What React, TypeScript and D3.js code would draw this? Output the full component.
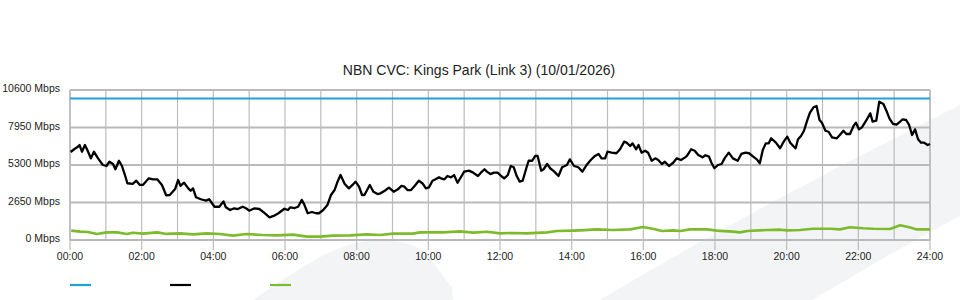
import React from "react";
import * as d3 from "d3";

const chartTitle = "NBN CVC: Kings Park (Link 3) (10/01/2026)";
const yTickValues = [0, 2650, 5300, 7950, 10600];
const xTickHours = [0, 2, 4, 6, 8, 10, 12, 14, 16, 18, 20, 22, 24];
const gridHours = d3.range(0, 25);
const capacitySeries: [number, number][] = [[0, 10000], [1440, 10000]];

// [minute of day, Mbps]
const trafficSeries: [number, number][] = [
  [1, 6220], [8, 6450], [12, 6550], [16, 6710], [20, 6240], [25, 6710], [29, 6360], [35, 5770], [40, 6240], [47, 5770],
  [55, 5300], [61, 5230], [66, 5530], [72, 5370], [76, 5000], [82, 5600], [87, 5230], [92, 4590], [96, 4010], [105, 3960],
  [111, 4190], [117, 3890], [122, 3890], [132, 4360], [139, 4290], [146, 4290], [154, 3890], [161, 3160], [167, 3180], [176, 3600],
  [181, 4240], [185, 3820], [191, 4050], [198, 3650], [202, 3480], [206, 3650], [211, 3020], [219, 2880], [228, 2780], [233, 2880],
  [242, 2350], [250, 2350], [257, 2730], [261, 2310], [268, 2120], [275, 2240], [281, 2190], [289, 2350], [295, 2240], [300, 2070],
  [309, 2240], [317, 2190], [325, 1930], [334, 1600], [341, 1700], [349, 1890], [359, 2210], [365, 2120], [369, 2310], [376, 2260],
  [382, 2350], [388, 2830], [392, 2540], [398, 1890], [405, 1980], [412, 1890], [417, 1890], [424, 2120], [431, 2470], [437, 3180],
  [443, 3530], [448, 4120], [453, 4590], [460, 3960], [467, 3650], [473, 3890], [478, 4120], [484, 3770], [489, 3180], [493, 3180],
  [502, 3890], [508, 3410], [515, 3250], [520, 3300], [527, 3480], [534, 3700], [542, 3410], [549, 3580], [555, 3820], [560, 3770],
  [565, 3530], [571, 3530], [577, 3820], [584, 4190], [590, 4010], [596, 3650], [601, 3720], [607, 4190], [612, 4290], [618, 4430],
  [621, 4360], [627, 4290], [632, 4520], [638, 4430], [643, 4590], [649, 4050], [655, 4470], [660, 4830], [668, 4900], [675, 4760],
  [683, 4520], [688, 4760], [694, 5000], [698, 4830], [704, 4660], [710, 4760], [716, 4760], [722, 4520], [727, 4360], [733, 4590],
  [738, 5230], [743, 5140], [748, 4520], [753, 4120], [758, 4190], [764, 5070], [768, 5600], [774, 5600], [779, 5940], [783, 5940],
  [789, 4900], [793, 5000], [799, 5370], [804, 5070], [811, 4830], [818, 4520], [824, 5140], [832, 5300], [837, 5700], [844, 5230],
  [851, 5140], [858, 4830], [865, 5300], [872, 5650], [879, 5940], [885, 6080], [890, 5770], [896, 5770], [900, 6240], [907, 6170],
  [915, 6130], [921, 6410], [928, 6950], [932, 6880], [938, 6640], [942, 6830], [948, 6410], [952, 6710], [957, 6170], [963, 6310],
  [968, 6170], [974, 5600], [980, 5770], [985, 5650], [991, 5370], [996, 5530], [1003, 5230], [1010, 5460], [1016, 5770], [1023, 5650],
  [1030, 5840], [1033, 5940], [1040, 6410], [1046, 6310], [1052, 6010], [1059, 5840], [1064, 5990], [1070, 5890], [1074, 5460], [1079, 5070],
  [1085, 5300], [1091, 5370], [1096, 5770], [1103, 6170], [1110, 5770], [1118, 5600], [1124, 6080], [1131, 6170], [1137, 6130], [1144, 5890],
  [1150, 5700], [1155, 5420], [1160, 6360], [1165, 6830], [1170, 6830], [1174, 7190], [1182, 6880], [1189, 6480], [1195, 6950], [1201, 7300],
  [1206, 6880], [1211, 6640], [1215, 6480], [1219, 7120], [1224, 7350], [1229, 7720], [1234, 8400], [1239, 9000], [1245, 9380], [1250, 9470],
  [1255, 8480], [1259, 8290], [1265, 7720], [1270, 7650], [1276, 7260], [1284, 7190], [1289, 7420], [1295, 7720], [1300, 7490], [1306, 7490],
  [1312, 8060], [1316, 8290], [1321, 7820], [1326, 7960], [1333, 8430], [1340, 8950], [1344, 8360], [1350, 8430], [1355, 9770], [1362, 9610],
  [1367, 9140], [1372, 8600], [1378, 8200], [1384, 8150], [1390, 8360], [1394, 8530], [1400, 8480], [1405, 8130], [1410, 7420], [1415, 7820],
  [1420, 7120], [1425, 6880], [1430, 6880], [1436, 6710], [1440, 6780],
];

// [minute of day, Mbps]
const secondarySeries: [number, number][] = [
  [2, 660], [17, 590], [30, 560], [45, 420], [61, 540], [79, 540], [95, 420], [105, 510], [122, 450], [146, 540],
  [162, 430], [184, 470], [206, 400], [229, 470], [251, 420], [273, 310], [296, 420], [323, 350], [347, 330], [373, 380],
  [397, 240], [419, 240], [440, 310], [469, 330], [497, 400], [519, 350], [541, 450], [574, 450], [586, 540], [625, 540],
  [653, 610], [675, 520], [698, 580], [720, 470], [742, 500], [765, 470], [799, 540], [815, 640], [842, 660], [854, 680],
  [882, 750], [909, 710], [938, 750], [959, 920], [976, 800], [991, 640], [1010, 680], [1022, 640], [1038, 750], [1067, 750],
  [1083, 660], [1110, 590], [1122, 540], [1134, 640], [1167, 710], [1189, 730], [1201, 680], [1222, 710], [1244, 800], [1273, 800],
  [1289, 750], [1306, 900], [1328, 830], [1345, 800], [1373, 780], [1390, 1040], [1407, 880], [1418, 750], [1440, 750],
];

const colors = { capacity: "#1ea1dd", traffic: "#000000", secondary: "#7dbb2c" };
const legendItems = [
  { key: "capacity", color: colors.capacity },
  { key: "traffic", color: colors.traffic },
  { key: "secondary", color: colors.secondary },
];

const W = 960;
const H = 300;
const M = { left: 70, right: 30, top: 90, bottom: 60 };
const FONT = "'Liberation Sans', Arial, Helvetica, sans-serif";

export default function App() {
  const x = d3.scaleLinear().domain([0, 1440]).range([M.left, W - M.right]);
  const y = d3.scaleLinear().domain([0, 10600]).range([H - M.bottom, M.top]);
  const line = d3
    .line<[number, number]>()
    .x((d) => x(d[0]))
    .y((d) => y(d[1]));
  const pad2 = (n: number) => String(n).padStart(2, "0");
  const x0 = x(0), x1 = x(1440), yTop = y(10600), yBot = y(0);

  return (
    <div style={{ position: "absolute", left: 0, top: 0 }}>
      <svg width={W} height={H} style={{ display: "block", fontFamily: FONT }}>
        <rect x={0} y={0} width={W} height={H} fill="#fff" />
        {/* decorative background swooshes */}
        <path d="M253,300 C300,268 335,243 370,241 C398,239 418,243 430,258 L452,288 L453,300 Z" fill="#f3f4f6" />
        <path d="M600,300 C700,240 820,175 960,105 L960,216 C905,245 860,272 812,300 Z" fill="#f3f4f6" />

        {/* vertical grid */}
        {gridHours.map((h) => (
          <line key={"v" + h} x1={x(h * 60)} x2={x(h * 60)} y1={yTop} y2={yBot} stroke="#bcbcbc" strokeWidth={1.2} />
        ))}
        {/* horizontal grid */}
        {yTickValues.map((v) => (
          <line key={"h" + v} x1={x0} x2={x1} y1={y(v)} y2={y(v)} stroke="#bababa" strokeWidth={1.8} />
        ))}
        <line x1={x0} x2={x0} y1={yTop} y2={yBot} stroke="#bababa" strokeWidth={1.5} />
        <line x1={x1} x2={x1} y1={yTop} y2={yBot} stroke="#bababa" strokeWidth={1.5} />

        {/* x ticks and labels */}
        {xTickHours.map((h) => (
          <g key={"t" + h}>
            <line x1={x(h * 60)} x2={x(h * 60)} y1={yBot} y2={yBot + 10} stroke="#bcbcbc" strokeWidth={1.2} />
            <text x={x(h * 60)} y={yBot + 20} textAnchor="middle" fontSize={10.5} fill="#222">
              {pad2(h) + ":00"}
            </text>
          </g>
        ))}
        {/* y labels */}
        {yTickValues.map((v) => (
          <text key={"yl" + v} x={60} y={y(v) + 2} textAnchor="end" fontSize={10.5} fill="#222">
            {v + " Mbps"}
          </text>
        ))}

        {/* series */}
        <path d={line(capacitySeries) || ""} fill="none" stroke={colors.capacity} strokeWidth={2.2} />
        <path d={line(secondarySeries) || ""} fill="none" stroke={colors.secondary} strokeWidth={2.6} strokeLinejoin="round" />
        <path d={line(trafficSeries) || ""} fill="none" stroke={colors.traffic} strokeWidth={2.3} strokeLinejoin="round" />

        {/* title */}
        <text x={479} y={75} textAnchor="middle" fontSize={14} fill="#222">
          {chartTitle}
        </text>

        {/* legend (no labels) */}
        {legendItems.map((it, i) => (
          <line key={it.key} x1={70 + i * 100} x2={91 + i * 100} y1={285} y2={285} stroke={it.color} strokeWidth={2.2} />
        ))}
      </svg>
    </div>
  );
}
